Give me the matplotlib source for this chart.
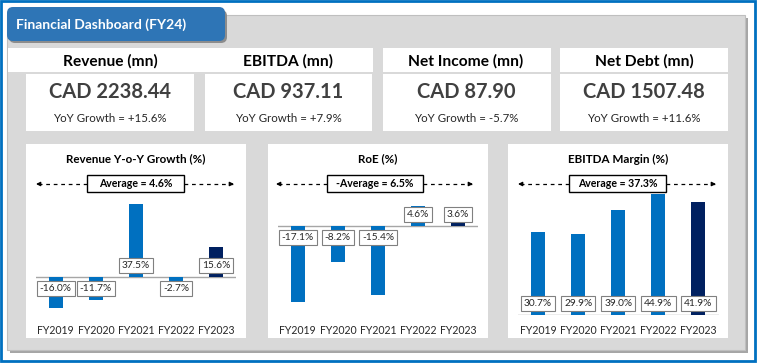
import matplotlib.pyplot as plt
import matplotlib.patches as mpatches
import matplotlib.transforms as mtransforms

plt.rcParams['font.family'] = ['Lato', 'DejaVu Sans']

W, H = 757, 364

years = ["FY2019", "FY2020", "FY2021", "FY2022", "FY2023"]
rev_growth = [-16.0, -11.7, 37.5, -2.7, 15.6]
roe = [-17.1, -8.2, -15.4, 4.6, 3.6]
ebitda_margin = [30.7, 29.9, 39.0, 44.9, 41.9]

kpi_names = ["Revenue (mn)", "EBITDA (mn)", "Net Income (mn)", "Net Debt (mn)"]
kpi_values = ["CAD 2238.44", "CAD 937.11", "CAD 87.90", "CAD 1507.48"]
kpi_growth = ["+15.6%", "+7.9%", "-5.7%", "+11.6%"]

chart_titles = ["Revenue Y-o-Y Growth (%)", "RoE (%)", "EBITDA Margin (%)"]
avg_texts = ["Average = 4.6%", "-Average = 6.5%", "Average = 37.3%"]

BLUE = '#0070c0'
NAVY = '#002060'

fig = plt.figure(figsize=(W / 100, H / 100), dpi=100)
fig.patch.set_facecolor('white')

bg = fig.add_axes([0, 0, 1, 1])
bg.set_xlim(0, W)
bg.set_ylim(H, 0)
bg.axis('off')


def rect(x0, y0, x1, y1, **kw):
    bg.add_patch(mpatches.Rectangle((x0, y0), x1 - x0, y1 - y0, **kw))


# outer frame and grey panel
rect(1, 1, 755, 361, fc='white', ec=BLUE, lw=2)
rect(10, 18, 748, 353, fc='#a6a6a6', ec='none')
rect(7, 15, 745, 350, fc='#d9d9d9', ec='#bfbfbf', lw=0.8)

# title tab
bg.add_patch(mpatches.FancyBboxPatch((9, 10), 218, 33, boxstyle='round,pad=0,rounding_size=6',
                                     fc='#8c8c8c', ec='none'))
bg.add_patch(mpatches.FancyBboxPatch((7, 7), 218, 34, boxstyle='round,pad=0,rounding_size=6',
                                     fc='#2e75b6', ec='none'))
bg.text(16, 25, "Financial Dashboard (FY24)", color='white', fontsize=10, fontweight='bold',
        ha='left', va='center')

# KPI cards
rect(8, 48, 373, 72, fc='white', ec='none')
rect(383, 48, 551, 72, fc='white', ec='none')
rect(560, 48, 728, 72, fc='white', ec='none')
value_boxes = [(26, 194), (205, 372), (383, 551), (560, 728)]
centers = [110, 288, 466, 644]
for (x0, x1), cx, name, val, gr in zip(value_boxes, centers, kpi_names, kpi_values, kpi_growth):
    rect(x0, 74, x1, 131, fc='white', ec='none')
    bg.text(cx, 61, name, fontsize=11.2, fontweight='bold', ha='center', va='center', color='black')
    bg.text(cx, 92, val, fontsize=14.5, fontweight='bold', ha='center', va='center', color='#404040')
    bg.text(cx, 118, "YoY Growth = " + gr, fontsize=8.3, ha='center', va='center', color='#262626')

# chart cards
panels = [(26, 246), (268, 488), (508, 728)]
first_x = [55.7, 297.7, 538.0]
zero_y = [277, 226, 315]
px_per = [1.95, 4.45, 2.7]
ylims = [(-20, 42), (-19, 8), (0, 46)]
avg_boxes = [(87, 184), (327, 423), (569, 666)]
arrow_ends = [(36, 234), (276, 473), (518, 716)]
series = [rev_growth, roe, ebitda_margin]

for k in range(3):
    px0, px1 = panels[k]
    rect(px0, 144, px1, 338, fc='white', ec='none')
    cx = (px0 + px1) / 2
    bg.text(cx, 159, chart_titles[k], fontsize=8.4, fontweight='bold', ha='center', va='center')

    # average marker
    a0, a1 = arrow_ends[k]
    b0, b1 = avg_boxes[k]
    for start, end in [(b0, a0), (b1, a1)]:
        bg.plot([start, end], [184, 184], color='black', lw=0.9, ls=(0, (3, 3)))
        bg.annotate('', xy=(end, 184), xytext=(end + (4 if end < start else -4), 184),
                    arrowprops=dict(arrowstyle='-|>', color='black', lw=0.9,
                                    mutation_scale=6, shrinkA=0, shrinkB=0))
    rect(b0, 175, b1, 192, fc='white', ec='black', lw=1)
    bg.text((b0 + b1) / 2, 183.5, avg_texts[k], fontsize=7.6, fontweight='bold',
            ha='center', va='center')

    # bar chart axes placed in pixel space
    lo, hi = ylims[k]
    x0 = first_x[k] - 20
    y_top = zero_y[k] - hi * px_per[k]
    y_bot = zero_y[k] - lo * px_per[k]
    ax = fig.add_axes([x0 / W, 1 - y_bot / H, 200.5 / W, (y_bot - y_top) / H])
    ax.set_xlim(-0.5, 4.5)
    ax.set_ylim(lo, hi)
    ax.axis('off')
    ax.patch.set_alpha(0)

    vals = series[k]
    colors = [BLUE] * (len(vals) - 1) + [NAVY]
    xs = range(len(vals))
    ax.bar(xs, vals, width=0.35, color=colors, zorder=2)
    ax.axhline(0, color='#a6a6a6', lw=1, zorder=1)
    for i, v in enumerate(vals):
        off = -8 if v < 0 else 8
        ax.annotate(f"{v:.1f}%", xy=(i, 0), xytext=(0, off), textcoords='offset points',
                    ha='center', va='center', fontsize=7.3, color='#262626', zorder=3,
                    bbox=dict(boxstyle='square,pad=0.3', fc='white', ec='#808080', lw=0.8))

    trans = mtransforms.blended_transform_factory(ax.transData, bg.transData)
    for i, yr in enumerate(years):
        ax.text(i, 330, yr, transform=trans, ha='center', va='center', fontsize=7.6,
                color='#262626')

fig.savefig('out.png', dpi=100)
